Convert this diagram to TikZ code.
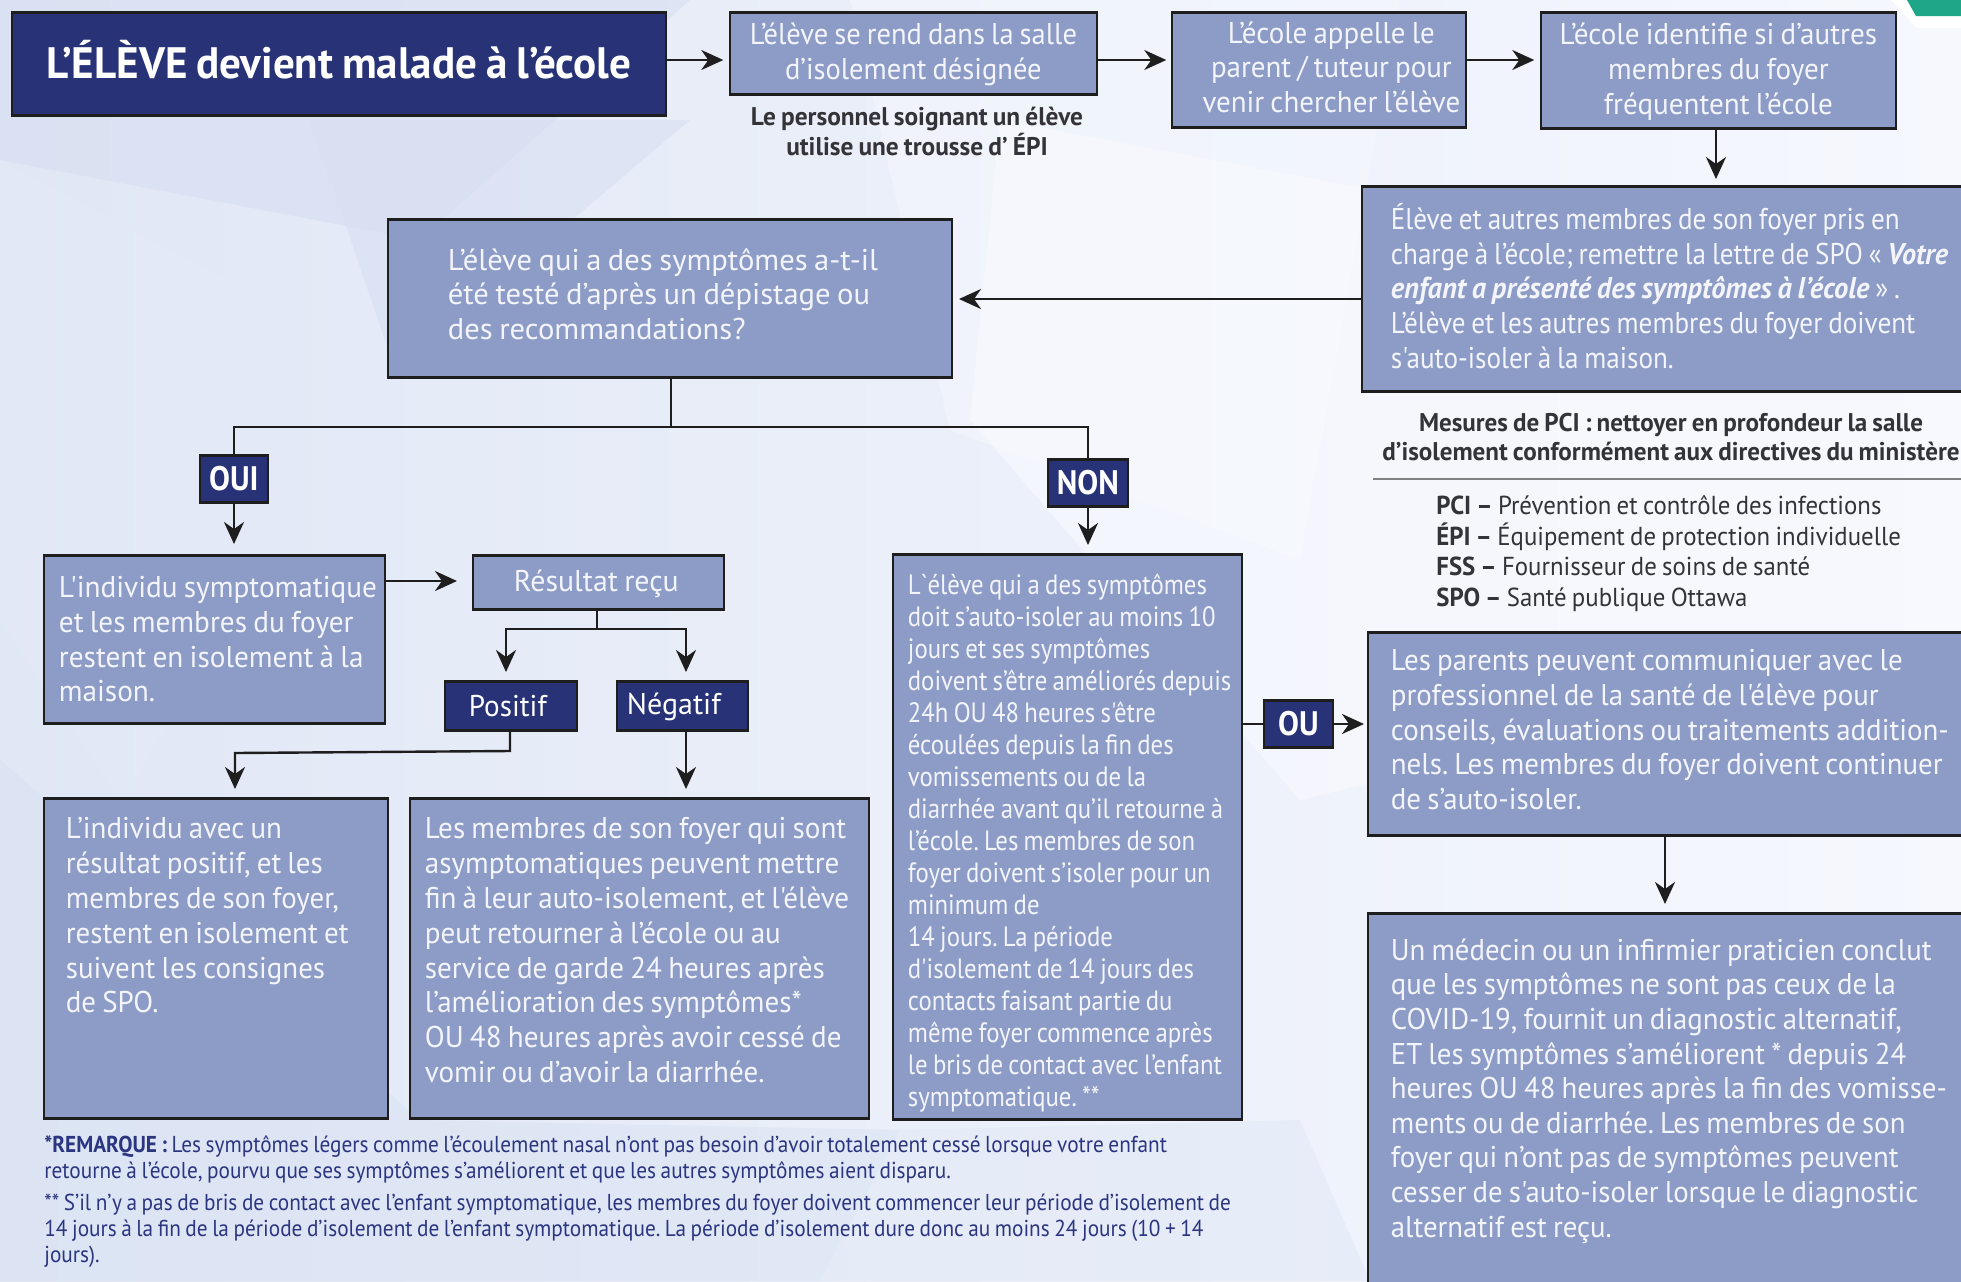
\documentclass[tikz,border=0pt]{standalone}
\usepackage{fontspec}
\setmainfont{PT Sans}[WordSpace=0.8,Ligatures=TeXOff]
\frenchspacing
\usetikzlibrary{arrows.meta}
\definecolor{navy}{HTML}{283276}
\definecolor{panel}{HTML}{8D9CC6}
\definecolor{ink}{HTML}{1E1E1E}
\definecolor{pale}{HTML}{F3F5FB}
\definecolor{note}{HTML}{2B3580}
\definecolor{label}{HTML}{333338}
\definecolor{teal}{HTML}{1FA588}
\definecolor{bgL}{HTML}{E0E7F5}
\definecolor{bgR}{HTML}{F6F8FE}
\definecolor{fa}{HTML}{D6DEF1}
\definecolor{fb}{HTML}{D8DFF2}
\definecolor{fc}{HTML}{E4EAF7}
\definecolor{fd}{HTML}{E8EEF9}
\definecolor{fe}{HTML}{F4F7FD}
\definecolor{ff}{HTML}{F9FAFF}
\definecolor{fg}{HTML}{DAE3F3}
\definecolor{fh}{HTML}{E2E9F6}
\newcommand\sz[2]{\fontsize{#1pt}{#2pt}\selectfont}
\newcommand\st[1]{\addfontfeature{FakeStretch=#1}}
% left/top padded text in a box of w x h pixels
\newcommand\ltx[6]{\begin{minipage}[c][\dimexpr #2pt/2\relax][t]{\dimexpr #1pt/2\relax}\frenchspacing\vspace*{\dimexpr #4pt/2\relax}\raggedright\leftskip=\dimexpr #3pt/2\relax\relax #5\frenchspacing #6\end{minipage}}
\newcommand\ctx[4]{\begin{minipage}[c][\dimexpr #2pt/2\relax][c]{\dimexpr #1pt/2\relax}\centering #3\frenchspacing #4\end{minipage}}
\tikzset{
  panelbox/.style={draw=ink,line width=1.4pt,fill=panel,text=pale,inner sep=0pt,anchor=north west},
  navybox/.style={draw=ink,line width=1.4pt,fill=navy,text=white,inner sep=0pt,anchor=north west},
  conn/.style={draw=ink,line width=1.2pt},
  arr/.style={conn,-{Stealth[length=11pt,width=10pt,inset=3.5pt]}},
  noteline/.style={text=note,inner sep=0pt,anchor=north west,align=left}
}
\begin{document}
\begin{tikzpicture}[x=0.5pt,y=-0.5pt]
\useasboundingbox (0,0) rectangle (1961,1281);
\clip (0,0) rectangle (1961,1281);
% background
\shade[left color=bgL,right color=bgR] (0,0) rectangle (1961,1281);
\begin{scope}[fill opacity=0.6]
\fill[fa] (0,0) -- (690,0) -- (420,240) -- (0,160) -- cycle;
\fill[fb] (310,120) -- (690,120) -- (395,370) -- cycle;
\fill[fc] (0,160) -- (395,370) -- (120,800) -- (0,620) -- cycle;
\fill[fd] (395,370) -- (860,350) -- (700,230) -- cycle;
\fill[fe] (850,0) -- (1400,0) -- (1300,560) -- (950,430) -- cycle;
\fill[ff] (1000,120) -- (1961,300) -- (1961,640) -- (1300,800) -- (970,420) -- cycle;
\fill[fg] (0,760) -- (420,1120) -- (900,1130) -- (820,1281) -- (0,1281) -- cycle;
\fill[fh] (900,1130) -- (1300,1120) -- (1370,1281) -- (820,1281) -- cycle;
\end{scope}
% corner mark
\fill[white] (1891,0) -- (1961,0) -- (1961,28) -- (1917,28) -- cycle;
\fill[teal] (1907,0) -- (1961,0) -- (1961,16) -- (1916,16) -- cycle;

\begin{scope}[xshift=-0.75pt,yshift=0.4pt]
% boxes
\node[navybox] (title) at (12,12) {\ctx{654}{103}{\bfseries\sz{22}{24}\st{0.98}}{L’ÉLÈVE devient malade à l’école\par\vspace{4pt}}};
\node[panelbox] (salle) at (730,12) {\ctx{367}{82}{\sz{15}{17.5}\st{0.95}}{\vspace*{1.2pt}L’élève se rend dans la salle\\d’isolement désignée}};
\node[panelbox] (appel) at (1172,12) {\ctx{294}{115}{\sz{15}{17.2}\st{0.965}\leftskip=12.5pt plus 1fil\relax}{L’école appelle le\\parent / tuteur pour\\venir chercher l’élève\par\vspace{3pt}}};
\node[panelbox] (ident) at (1541,12) {\ctx{355}{116}{\sz{15}{17.5}\st{0.97}}{\vspace*{1.2pt}L’école identifie si d’autres\\membres du foyer\\fréquentent l’école}};
\node[panelbox] (prise) at (1362,186) {\ltx{640}{205}{29}{17}{\sz{15}{17.3}\st{0.905}}{Élève et autres membres de son foyer pris en\\charge à l’école; remettre la lettre de SPO « \textbf{\textit{\st{0.94}Votre}}\\\textbf{\textit{\st{0.95}enfant a présenté des symptômes à l’école}} » .\\L’élève et les autres membres du foyer doivent\\s'auto-isoler à la maison.}};
\node[panelbox] (quest) at (388,219) {\ltx{564}{158}{60}{28.5}{\sz{15}{17.3}\st{1.02}}{L’élève qui a des symptômes a-t-il\\été testé d’après un dépistage ou\\des recommandations?}};
\node[navybox] (oui) at (200,455) {\ctx{68}{47}{\bfseries\sz{17}{18}\st{0.92}}{OUI\par\vspace{1pt}}};
\node[navybox] (non) at (1048,459) {\ctx{80}{47}{\bfseries\sz{17}{18}\st{0.92}}{NON\par\vspace{1pt}}};
\node[panelbox] (indiv) at (44,555) {\ltx{341}{168}{15}{21}{\sz{15}{17.3}\st{0.975}}{L'individu symptomatique\\et les membres du foyer\\restent en isolement à la\\maison.}};
\node[panelbox] (recu) at (473,555) {\ctx{251}{54}{\sz{15}{17}\st{0.995}\rightskip=2pt plus 1fil\relax}{\vspace*{1pt}Résultat reçu}};
\node[navybox] (pos) at (445,681) {\ctx{132}{49}{\sz{15}{17}\st{0.97}\rightskip=3pt plus 1fil\relax}{Positif}};
\node[navybox] (neg) at (617,681) {\ctx{131}{49}{\sz{15}{17}\st{1.0}\rightskip=8.5pt plus 1fil\relax}{\vspace*{1pt}Négatif}};
\node[panelbox] (bleft) at (44,798) {\ltx{344}{320}{22}{19}{\sz{15}{17.4}\st{0.965}}{L’individu avec un\\résultat positif, et les\\membres de son foyer,\\restent en isolement et\\suivent les consignes\\de SPO.}};
\node[panelbox] (bmid) at (410,798) {\ltx{459}{320}{15}{19}{\sz{15}{17.4}\st{0.97}}{Les membres de son foyer qui sont\\asymptomatiques peuvent mettre\\fin à leur auto-isolement, et l'élève\\peut retourner à l’école ou au\\service de garde 24 heures après\\l’amélioration des symptômes*\\OU 48 heures après avoir cessé de\\vomir ou d’avoir la diarrhée.}};
\node[panelbox] (big) at (893,554) {\ltx{349}{565}{15}{19.5}{\sz{14}{16}\st{0.885}}{L`élève qui a des symptômes\\doit s’auto-isoler au moins 10\\jours et ses symptômes\\doivent s’être améliorés depuis\\24h OU 48 heures s'être\\écoulées depuis la fin des\\vomissements ou de la\\diarrhée avant qu’il retourne à\\l’école. Les membres de son\\foyer doivent s’isoler pour un\\minimum de\\14 jours. La période\\d'isolement de 14 jours des\\contacts faisant partie du\\même foyer commence après\\le bris de contact avec l’enfant\\symptomatique. **}};
\node[navybox] (ou) at (1264,700) {\ctx{69}{47}{\bfseries\sz{17}{18}\st{0.92}}{OU\par\vspace{1pt}}};
\node[panelbox] (parents) at (1368,632) {\ltx{640}{203}{23}{17}{\sz{15}{17.3}\st{0.965}}{Les parents peuvent communiquer avec le\\professionnel de la santé de l'élève pour\\conseils, évaluations ou traitements addition-\\nels. Les membres du foyer doivent continuer\\de s’auto-isoler.}};
\node[panelbox] (medecin) at (1368,913) {\ltx{640}{400}{23}{25}{\sz{15}{17.3}\st{0.96}}{Un médecin ou un infirmier praticien conclut\\que les symptômes ne sont pas ceux de la\\COVID-19, fournit un diagnostic alternatif,\\ET les symptômes s’améliorent * depuis 24\\heures OU 48 heures après la fin des vomisse-\\ments ou de diarrhée. Les membres de son\\foyer qui n’ont pas de symptômes peuvent\\cesser de s'auto-isoler lorsque le diagnostic\\alternatif est reçu.}};
\end{scope}

% plain texts
\node[text=label,inner sep=0pt,align=center,font=\bfseries\sz{12.8}{15}\st{0.99}] (soin) at (917,131) {Le personnel soignant un élève\\utilise une trousse d’ ÉPI};
\node[text=label,inner sep=0pt,align=center,font=\bfseries\sz{12.8}{14.2}\st{0.98}] (pci) at (1671,437) {Mesures de PCI : nettoyer en profondeur la salle\\d’isolement conformément aux directives du ministère};
\node[text=label,inner sep=0pt,anchor=north west,align=left,font=\sz{13}{15.3}\st{0.955}] (abbr) at (1436,495) {\textbf{PCI –} Prévention et contrôle des infections\\\textbf{ÉPI –} Équipement de protection individuelle\\\textbf{FSS –} Fournisseur de soins de santé\\\textbf{SPO –} Santé publique Ottawa};
\coordinate (ruleL) at (1373,479);
\coordinate (ruleR) at (1961,479);
\draw[gray,line width=0.6pt] (ruleL) -- (ruleR);
\node[noteline,font=\sz{11.5}{13}\st{0.925}] (note1) at (44,1135) {\textbf{*REMARQUE :} Les symptômes légers comme l’écoulement nasal n’ont pas besoin d’avoir totalement cessé lorsque votre enfant\\retourne à l’école, pourvu que ses symptômes s’améliorent et que les autres symptômes aient disparu.};
\node[noteline,font=\sz{11.5}{13}\st{0.925}] (note2) at (44,1194) {** S’il n’y a pas de bris de contact avec l’enfant symptomatique, les membres du foyer doivent commencer leur période d’isolement de\\14 jours à la fin de la période d’isolement de l’enfant symptomatique. La période d’isolement dure donc au moins 24 jours (10 + 14\\jours).};

% connectors
\draw[arr] (title.east |- 0,60) -- ++(56,0);
\draw[arr] (salle.east |- 0,60) -- ++(68,0);
\draw[arr] (appel.east |- 0,60) -- ++(67,0);
\draw[arr] (ident.south -| 1716,0) -- (1716,179);
\draw[arr] (prise.west |- 0,299) -- (959,299);
\draw[conn] (quest.south -| 671,0) -- (671,427);
\draw[conn] (oui.north -| 234,0) -- (234,427) -- (1088,427) -- (non.north -| 1088,0);
\draw[arr] (oui.south -| 234,0) -- (234,544);
\draw[arr] (non.south -| 1088,0) -- (1088,545);
\draw[arr] (indiv.east |- 0,581) -- (457,581);
\draw[conn] (recu.south -| 597,0) -- (597,629);
\draw[arr] (597,629) -- (506,629) -- (506,672);
\draw[arr] (597,629) -- (686,629) -- (686,672);
\draw[arr] (pos.south -| 510,0) -- (510,751) -- (235,753) -- (235,789);
\draw[arr] (neg.south -| 686,0) -- (686,789);
\draw[conn] (big.east |- 0,724) -- (ou.west |- 0,724);
\draw[arr] (ou.east |- 0,724) -- (1364,724);
\draw[arr] (parents.south -| 1665,0) -- (1665,904);
\end{tikzpicture}
\end{document}
